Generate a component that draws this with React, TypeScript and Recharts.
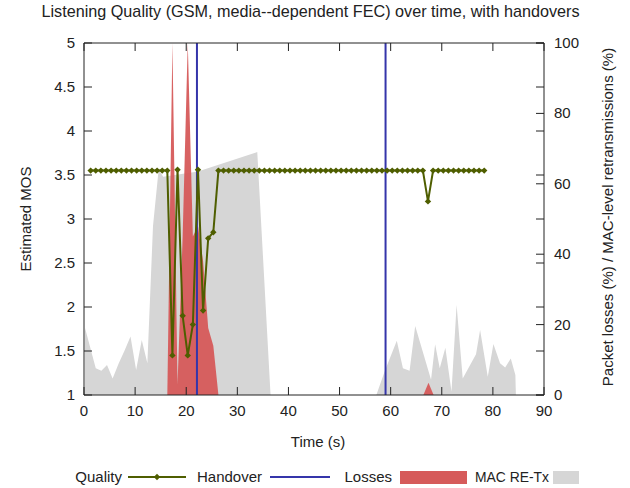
import { ComposedChart, Area, Line, XAxis, YAxis, ReferenceLine } from 'recharts';

// quality samples (MOS), one per ~second
const qualityTime = [
  1.3, 2.3, 3.3, 4.3, 5.3, 6.3, 7.3, 8.3, 9.3, 10.3, 11.3, 12.3, 13.3, 14.3, 15.3, 16.3,
  17.3, 18.3, 19.3, 20.3, 21.3, 22.3, 23.3, 24.3, 25.3, 26.3, 27.3, 28.3, 29.3, 30.3,
  31.3, 32.3, 33.3, 34.3, 35.3, 36.3, 37.3, 38.3, 39.3, 40.3, 41.3, 42.3, 43.3, 44.3,
  45.3, 46.3, 47.3, 48.3, 49.3, 50.3, 51.3, 52.3, 53.3, 54.3, 55.3, 56.3, 57.3, 58.3,
  59.3, 60.3, 61.3, 62.3, 63.3, 64.3, 65.3, 66.3, 67.3, 68.3, 69.3, 70.3, 71.3, 72.3,
  73.3, 74.3, 75.3, 76.3, 77.3, 78.3,
];
const qualityMos = [
  3.55, 3.55, 3.55, 3.55, 3.55, 3.55, 3.55, 3.55, 3.55, 3.55, 3.55, 3.55, 3.55, 3.55, 3.55, 3.55,
  1.45, 3.56, 1.9, 1.45, 1.8, 3.56, 1.96, 2.78, 2.85, 3.55, 3.55, 3.55, 3.55, 3.55,
  3.55, 3.55, 3.55, 3.55, 3.55, 3.55, 3.55, 3.55, 3.55, 3.55, 3.55, 3.55, 3.55, 3.55,
  3.55, 3.55, 3.55, 3.55, 3.55, 3.55, 3.55, 3.55, 3.55, 3.55, 3.55, 3.55, 3.55, 3.55,
  3.55, 3.55, 3.55, 3.55, 3.55, 3.55, 3.55, 3.55, 3.2, 3.55, 3.55, 3.55, 3.55, 3.55,
  3.55, 3.55, 3.55, 3.55, 3.55, 3.55,
];

// packet losses (%)
const lossTime = [16.3, 17.3, 18.3, 19.3, 20.3, 21.3, 22.3, 23.3, 24.3, 25.3, 26.3, 66.4, 67.4, 68.4];
const lossPct = [0, 100, 3, 45, 100, 45, 48, 38, 19, 14, 0, 0, 3.5, 0];

// MAC-level retransmissions (%)
const retxTime = [
  0.2, 2.3, 3.4, 4.5, 5.6, 6.8, 7.9, 9.1, 10.2, 11.3, 12.4, 13.5, 14.6, 15.5, 22.3, 33.9, 36.5,
  57.2, 58.8, 61.2, 62.4, 63.7, 64.8, 67.9, 68.7, 69.6, 70.7, 71.9, 72.9, 74.1,
  76.7, 77.5, 79.0, 80.1, 81.4, 82.4, 83.5, 84.4, 84.5,
];
const retxPct = [
  19, 7.6, 6.9, 8.5, 4.7, 9, 12.5, 16.6, 7.1, 15.6, 9, 48, 64, 62, 63.5, 69, 0,
  0, 6.6, 15.4, 7.6, 6.9, 19.6, 4.3, 14.4, 7.6, 13.4, 1, 25.6, 4.7,
  11.6, 18.5, 5.2, 14.5, 9, 7.8, 10.4, 5.7, 0,
];

const handoverTimes = [22.1, 59.0];

const xTicks = [0, 10, 20, 30, 40, 50, 60, 70, 80, 90];
const mosTicks = [1, 1.5, 2, 2.5, 3, 3.5, 4, 4.5, 5];
const pctTicks = [0, 20, 40, 60, 80, 100];

const qualityData = qualityTime.map((t, i) => ({ t, mos: qualityMos[i] }));
const lossData = lossTime.map((t, i) => ({ t, pct: lossPct[i] }));
const retxData = retxTime.map((t, i) => ({ t, pct: retxPct[i] }));

const W = 630;
const H = 488;
const PLOT_L = 84;
const PLOT_R = 544;
const PLOT_T = 43;
const PLOT_B = 395;
const TICK = 8;
const FONT = '"Liberation Sans", Arial, sans-serif';
const INK = '#222';
const OLIVE = '#4f5e00';
const BLUE = '#3535aa';
const RED = '#d65a5a';
const GREY = '#d6d6d6';

const BottomTick = ({ x, y, payload }: any) => (
  <g>
    <text x={x} y={y} dy="0.71em" textAnchor="middle" fontSize={15} fill={INK} fontFamily={FONT}>
      {payload.value}
    </text>
    <line x1={x} x2={x} y1={PLOT_B - TICK} y2={PLOT_B} stroke={INK} />
    <line x1={x} x2={x} y1={PLOT_T} y2={PLOT_T + TICK} stroke={INK} />
  </g>
);

const LeftTick = ({ x, y, payload }: any) => (
  <g>
    <text x={x} y={y} dy={5} textAnchor="end" fontSize={15} fill={INK} fontFamily={FONT}>
      {payload.value}
    </text>
    <line x1={PLOT_L} x2={PLOT_L + TICK} y1={y} y2={y} stroke={INK} />
    <line x1={PLOT_R - TICK} x2={PLOT_R} y1={y} y2={y} stroke={INK} />
  </g>
);

const RightTick = ({ x, y, payload }: any) => (
  <g>
    <text x={x} y={y} dy={5} textAnchor="start" fontSize={15} fill={INK} fontFamily={FONT}>
      {payload.value}
    </text>
    <line x1={PLOT_R - TICK} x2={PLOT_R} y1={y} y2={y} stroke={INK} />
  </g>
);

const Diamond = (p: any) => {
  const { cx, cy, index } = p;
  if (cx == null || cy == null) return <g key={`d-${index}`} />;
  return (
    <path
      key={`d-${index}`}
      d={`M${cx},${cy - 3.2}L${cx + 3.2},${cy}L${cx},${cy + 3.2}L${cx - 3.2},${cy}Z`}
      fill={OLIVE}
    />
  );
};

export default function App() {
  return (
    <div style={{ position: 'relative', width: W, height: H, fontFamily: FONT, color: INK }}>
      <style>{'body{margin:0}'}</style>
      <ComposedChart width={W} height={H} margin={{ top: PLOT_T, right: 0, bottom: 0, left: 0 }}>
        <XAxis
          type="number"
          dataKey="t"
          domain={[0, 90]}
          ticks={xTicks}
          height={H - PLOT_B}
          tickSize={0}
          tickMargin={10}
          tickLine={false}
          tick={<BottomTick />}
          axisLine={{ stroke: INK }}
          allowDataOverflow
        />
        <YAxis
          yAxisId="mos"
          type="number"
          domain={[1, 5]}
          ticks={mosTicks}
          width={PLOT_L}
          tickSize={0}
          tickMargin={9}
          tickLine={false}
          tick={<LeftTick />}
          axisLine={{ stroke: INK }}
          allowDataOverflow
        />
        <YAxis
          yAxisId="pct"
          orientation="right"
          type="number"
          domain={[0, 100]}
          ticks={pctTicks}
          width={W - PLOT_R}
          tickSize={0}
          tickMargin={10}
          tickLine={false}
          tick={<RightTick />}
          axisLine={{ stroke: INK }}
          allowDataOverflow
        />
        <Area
          yAxisId="pct"
          data={retxData}
          dataKey="pct"
          type="linear"
          stroke="none"
          fill={GREY}
          fillOpacity={1}
          dot={false}
          activeDot={false}
          isAnimationActive={false}
        />
        <Area
          yAxisId="pct"
          data={lossData}
          dataKey="pct"
          type="linear"
          stroke="none"
          fill={RED}
          fillOpacity={0.95}
          dot={false}
          activeDot={false}
          isAnimationActive={false}
        />
        {handoverTimes.map((t) => (
          <ReferenceLine key={t} x={t} yAxisId="mos" stroke={BLUE} strokeWidth={2} />
        ))}
        <ReferenceLine y={5} yAxisId="mos" stroke={INK} />
        <Line
          yAxisId="mos"
          data={qualityData}
          dataKey="mos"
          type="linear"
          stroke={OLIVE}
          strokeWidth={2}
          dot={Diamond}
          activeDot={false}
          isAnimationActive={false}
        />
      </ComposedChart>

      <div style={{ position: 'absolute', top: 2, left: 0, width: 621, textAlign: 'center', fontSize: 16.2 }}>
        Listening Quality (GSM, media--dependent FEC) over time, with handovers
      </div>
      <div style={{ position: 'absolute', top: 433, left: 0, width: 636, textAlign: 'center', fontSize: 15 }}>
        Time (s)
      </div>
      <div
        style={{
          position: 'absolute',
          left: 25,
          top: 219,
          transform: 'translate(-50%, -50%) rotate(-90deg)',
          whiteSpace: 'nowrap',
          fontSize: 15,
        }}
      >
        Estimated MOS
      </div>
      <div
        style={{
          position: 'absolute',
          left: 607,
          top: 217,
          transform: 'translate(-50%, -50%) rotate(-90deg)',
          whiteSpace: 'nowrap',
          fontSize: 15,
        }}
      >
        Packet losses (%) / MAC-level retransmissions (%)
      </div>

      <svg style={{ position: 'absolute', left: 0, top: 464 }} width={W} height={24}>
        <g fontSize={15} fill={INK} fontFamily={FONT} textAnchor="end">
          <text x={122} y={18}>Quality</text>
          <text x={262} y={18}>Handover</text>
          <text x={392} y={18}>Losses</text>
          <text x={549} y={18} textLength={74} lengthAdjust="spacingAndGlyphs">MAC RE-Tx</text>
        </g>
        <line x1={128} x2={186} y1={13} y2={13} stroke={OLIVE} strokeWidth={2} />
        <path d="M157,9.8L160.2,13L157,16.2L153.8,13Z" fill={OLIVE} />
        <line x1={270} x2={330} y1={13} y2={13} stroke={BLUE} strokeWidth={2} />
        <rect x={400} y={7} width={67} height={13} fill={RED} />
        <rect x={553} y={7} width={26} height={13} fill={GREY} />
      </svg>
    </div>
  );
}
